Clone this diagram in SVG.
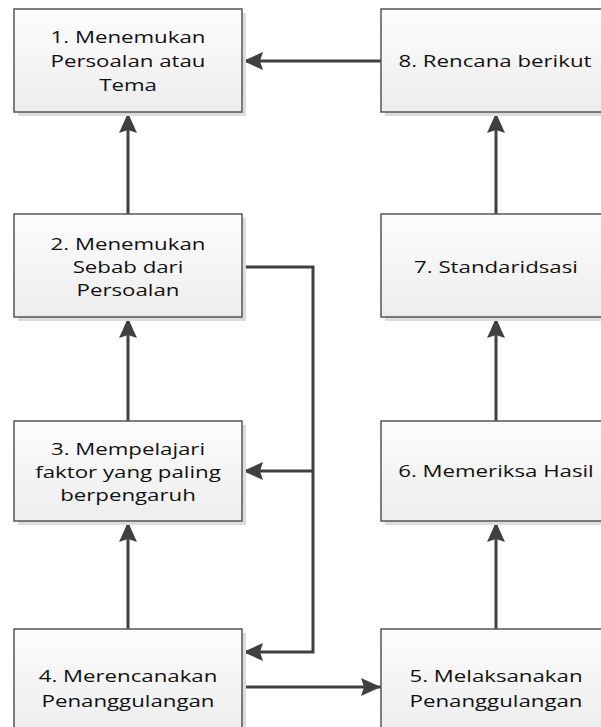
<svg xmlns="http://www.w3.org/2000/svg" width="601" height="727" viewBox="0 0 601 727">
  <defs>
    <linearGradient id="boxFill" x1="0" y1="0" x2="0" y2="1">
      <stop offset="0" stop-color="#fdfdfd"/>
      <stop offset="1" stop-color="#ededed"/>
    </linearGradient>
    <marker id="arrow" viewBox="0 0 20 18" refX="20" refY="9" markerWidth="20" markerHeight="18" markerUnits="userSpaceOnUse" orient="auto">
      <path d="M0,0 L20,9 L0,18 L3,9 Z" fill="#404040"/>
    </marker>
    <style>
      .shadow { fill: #dcdcdc; }
      .box { fill: url(#boxFill); stroke: #555555; stroke-width: 1.5; }
      .label { font-family: "Open Sans", "Noto Sans", sans-serif; font-size: 16px; fill: #111111; text-anchor: middle; }
      .link { fill: none; stroke: #404040; stroke-width: 3; }
      .head { marker-end: url(#arrow); }
    </style>
  </defs>

  <rect width="601" height="727" fill="#ffffff"/>

  <!-- connectors -->
  <g id="connectors">
    <line class="link head" x1="381" y1="61" x2="243" y2="61"/>
    <line class="link head" x1="128" y1="214" x2="128" y2="113"/>
    <line class="link head" x1="128" y1="421" x2="128" y2="318"/>
    <line class="link head" x1="128" y1="629" x2="128" y2="522"/>
    <line class="link head" x1="496" y1="214" x2="496" y2="113"/>
    <line class="link head" x1="496" y1="421" x2="496" y2="318"/>
    <line class="link head" x1="496" y1="629" x2="496" y2="522"/>
    <polyline class="link head" points="242,267 313,267 313,652 243,652"/>
    <line class="link head" x1="313" y1="471" x2="243" y2="471"/>
    <line class="link head" x1="242" y1="687" x2="381" y2="687"/>
  </g>

  <!-- labels are widened horizontally with scale(1.39,1) -->

  <!-- 1 -->
  <g id="node1">
    <rect class="shadow" x="18" y="13" width="228" height="103"/>
    <rect class="box" x="14" y="9" width="228" height="103"/>
    <text class="label" transform="translate(128,43) scale(1.39,1)">1. Menemukan</text>
    <text class="label" transform="translate(128,67) scale(1.39,1)">Persoalan atau</text>
    <text class="label" transform="translate(128,91) scale(1.39,1)">Tema</text>
  </g>

  <!-- 8 -->
  <g id="node8">
    <rect class="shadow" x="385" y="13" width="228" height="103"/>
    <rect class="box" x="381" y="9" width="228" height="103"/>
    <text class="label" transform="translate(495,67) scale(1.39,1)">8. Rencana berikut</text>
  </g>

  <!-- 2 -->
  <g id="node2">
    <rect class="shadow" x="18" y="218" width="228" height="103"/>
    <rect class="box" x="14" y="214" width="228" height="103"/>
    <text class="label" transform="translate(128,250) scale(1.39,1)">2. Menemukan</text>
    <text class="label" transform="translate(128,273) scale(1.39,1)">Sebab dari</text>
    <text class="label" transform="translate(128,296) scale(1.39,1)">Persoalan</text>
  </g>

  <!-- 7 -->
  <g id="node7">
    <rect class="shadow" x="385" y="218" width="228" height="103"/>
    <rect class="box" x="381" y="214" width="228" height="103"/>
    <text class="label" transform="translate(496,273) scale(1.39,1)">7. Standaridsasi</text>
  </g>

  <!-- 3 -->
  <g id="node3">
    <rect class="shadow" x="18" y="425" width="228" height="100"/>
    <rect class="box" x="14" y="421" width="228" height="100"/>
    <text class="label" transform="translate(128,455) scale(1.39,1)">3. Mempelajari</text>
    <text class="label" transform="translate(128,478) scale(1.39,1)">faktor yang paling</text>
    <text class="label" transform="translate(128,501) scale(1.39,1)">berpengaruh</text>
  </g>

  <!-- 6 -->
  <g id="node6">
    <rect class="shadow" x="385" y="425" width="228" height="100"/>
    <rect class="box" x="381" y="421" width="228" height="100"/>
    <text class="label" transform="translate(496,477) scale(1.39,1)">6. Memeriksa Hasil</text>
  </g>

  <!-- 4 -->
  <g id="node4">
    <rect class="shadow" x="18" y="633" width="228" height="103"/>
    <rect class="box" x="14" y="629" width="228" height="103"/>
    <text class="label" transform="translate(128,682) scale(1.39,1)">4. Merencanakan</text>
    <text class="label" transform="translate(128,707) scale(1.39,1)">Penanggulangan</text>
  </g>

  <!-- 5 -->
  <g id="node5">
    <rect class="shadow" x="385" y="633" width="228" height="103"/>
    <rect class="box" x="381" y="629" width="228" height="103"/>
    <text class="label" transform="translate(496,682) scale(1.39,1)">5. Melaksanakan</text>
    <text class="label" transform="translate(496,707) scale(1.39,1)">Penanggulangan</text>
  </g>
</svg>
